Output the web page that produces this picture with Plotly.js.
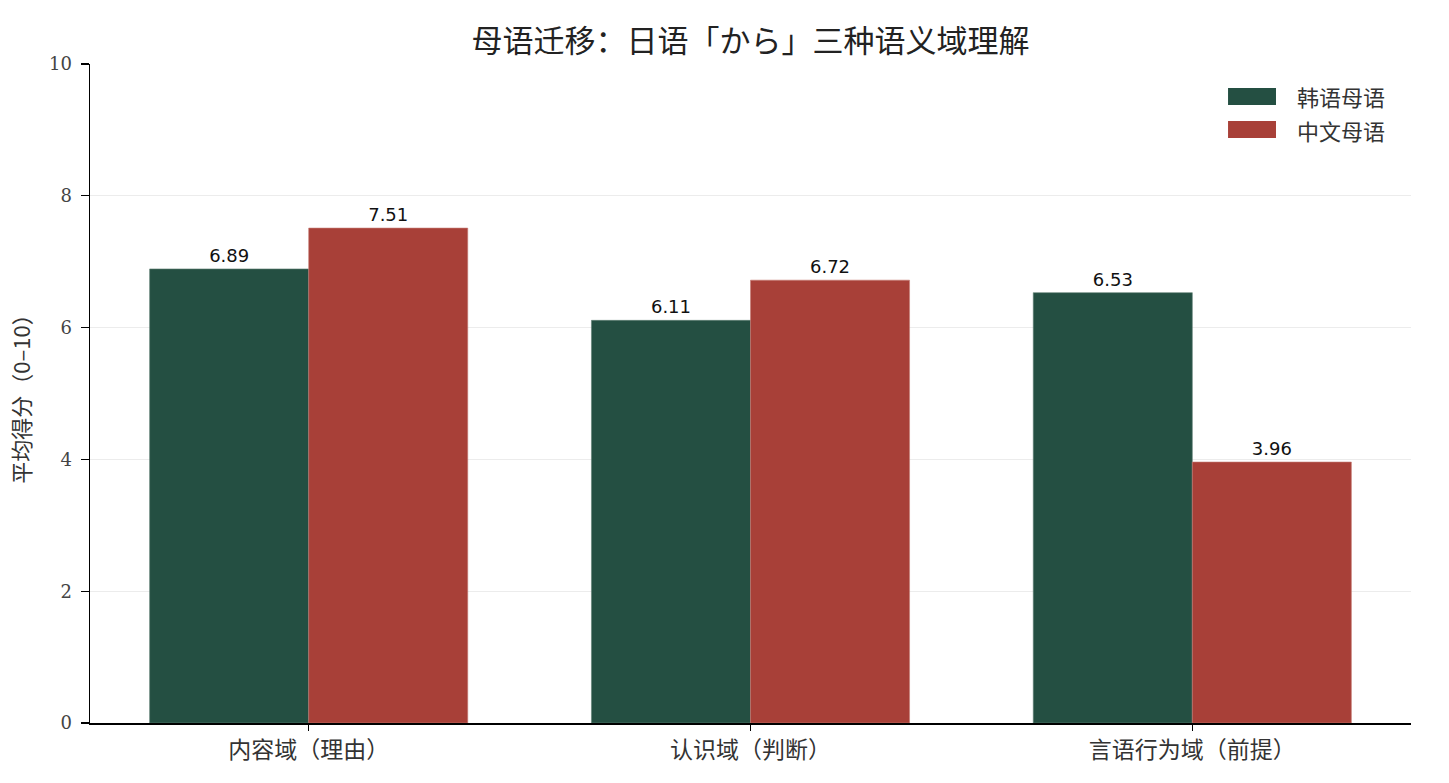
<!DOCTYPE html>
<html><head><meta charset="utf-8">
<script src="https://cdn.plot.ly/plotly-3.0.1.min.js"></script>
<style>body{margin:0;background:#fff}#chart{width:1449px;height:783px}</style>
</head><body><div id="chart"></div>
<script>
const categories = ["内容域（理由）", "认识域（判断）", "言语行为域（前提）"];
const koreanScores = [6.89, 6.11, 6.53];
const chineseScores = [7.51, 6.72, 3.96];
const seriesNames = ["韩语母语", "中文母语"];
const seriesColors = ["#244f42", "#a84038"];
const yTicks = [0, 2, 4, 6, 8, 10];

const idx = categories.map((_, i) => i);
const cjk = '"Noto Sans CJK SC", "Noto Sans", sans-serif';

const traces = [
  {type:'bar', x: idx.map(i => i - 0.18), y: koreanScores, name: seriesNames[0], width: 0.36,
   marker:{color:seriesColors[0], line:{color:'#5f7f74', width:0.6}},
   text: koreanScores.map(v => v.toFixed(2)), textposition:'outside', cliponaxis:false,
   textfont:{family:'DejaVu Sans', size:18, color:'#111'}, hoverinfo:'skip'},
  {type:'bar', x: idx.map(i => i + 0.18), y: chineseScores, name: seriesNames[1], width: 0.36,
   marker:{color:seriesColors[1], line:{color:'#c47a73', width:0.6}},
   text: chineseScores.map(v => v.toFixed(2)), textposition:'outside', cliponaxis:false,
   textfont:{family:'DejaVu Sans', size:18, color:'#111'}, hoverinfo:'skip'}
];

// legend drawn as swatches + labels (wide matplotlib-style patches)
const legendTop = [0.9636, 0.9135];
const legendH = 0.0258;
const shapes = seriesNames.map((n, k) => ({
  type:'rect', xref:'paper', yref:'paper', x0:0.8615, x1:0.8978,
  y0:legendTop[k] - legendH, y1:legendTop[k], fillcolor:seriesColors[k], line:{width:0}
}));
const annotations = seriesNames.map((n, k) => ({
  xref:'paper', yref:'paper', x:0.9122, y:legendTop[k] - legendH/2, xanchor:'left', yanchor:'middle',
  text:n, showarrow:false, font:{family:cjk, size:22, color:'#333'}
}));

const layout = {
  width:1449, height:783,
  margin:{l:90, r:38, t:64, b:60},
  paper_bgcolor:'#fff', plot_bgcolor:'#fff',
  title:{text:'母语迁移：日语「から」三种语义域理解', xref:'paper', x:0.5, xanchor:'center', y:0.947, yanchor:'middle',
         font:{family:cjk, size:31, color:'#222'}},
  barmode:'overlay', bargap:0,
  showlegend:false,
  shapes: shapes, annotations: annotations,
  xaxis:{range:[-0.495, 2.495], tickvals: idx, ticktext: categories, showline:true, linecolor:'#000', linewidth:1.5,
         ticks:'outside', ticklen:6, tickwidth:1.2, tickcolor:'#000', showgrid:false, zeroline:false,
         tickfont:{family:cjk, size:23, color:'#333'}, fixedrange:true},
  yaxis:{range:[0,10], tickvals: yTicks, showline:true, linecolor:'#000', linewidth:1.5,
         ticks:'outside', ticklen:8, tickwidth:1.2, tickcolor:'#000', ticklabelstandoff:5,
         showgrid:true, gridcolor:'#ececec', gridwidth:1, zeroline:false,
         tickfont:{family:'"DejaVu Serif", serif', size:18, color:'#444'},
         title:{text:'平均得分（0–10）', font:{family:cjk, size:22, color:'#333'}, standoff:12}}
};

Plotly.newPlot('chart', traces, layout, {displayModeBar:false, staticPlot:true});
</script></body></html>
